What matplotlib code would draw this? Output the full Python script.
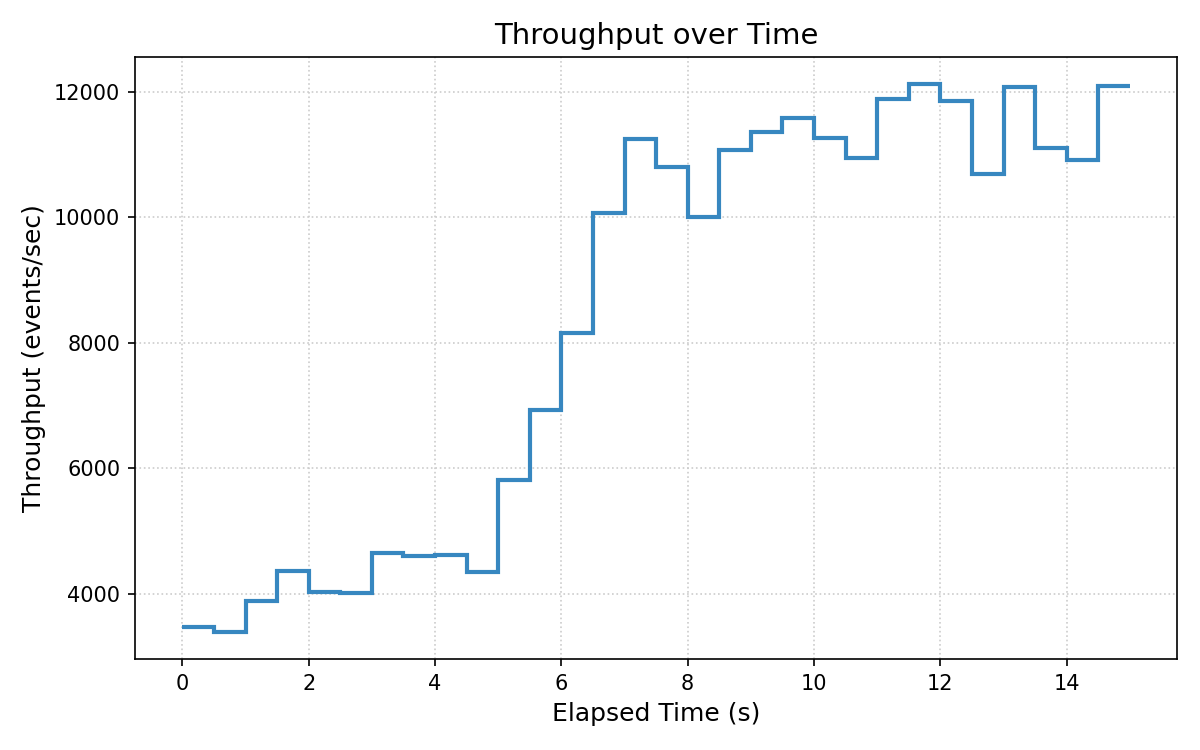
import matplotlib
matplotlib.use("Agg")
import matplotlib.pyplot as plt
import numpy as np

# Bin edges (seconds) and throughput per 0.5 s bin
time_edges = [0.0, 0.5, 1.0, 1.5, 2.0, 2.5, 3.0, 3.5, 4.0, 4.5, 5.0, 5.5, 6.0, 6.5, 7.0, 7.5,
              8.0, 8.5, 9.0, 9.5, 10.0, 10.5, 11.0, 11.5, 12.0, 12.5, 13.0, 13.5, 14.0, 14.5, 15.0]
throughput = [3483, 3398, 3888, 4363, 4032, 4016, 4656, 4608, 4624, 4352,
              5814, 6939, 8160, 10069, 11253, 10794, 10000, 11066, 11354, 11580,
              11260, 10952, 11883, 12117, 11851, 10693, 12075, 11109, 10907, 12085]

fig, ax = plt.subplots(figsize=(8, 5), dpi=150)
ax.stairs(throughput, time_edges, baseline=None, color="#3787c0", linewidth=2, zorder=3)
ax.margins(x=0.05, y=0.05)
ax.set_title("Throughput over Time", fontsize=14)
ax.set_xlabel("Elapsed Time (s)", fontsize=12)
ax.set_ylabel("Throughput (events/sec)", fontsize=12)
ax.grid(True, linestyle=":", color="#cccccc", linewidth=0.8, zorder=0)
ax.set_axisbelow(True)
ax.set_yticks([4000, 6000, 8000, 10000, 12000])
ax.tick_params(labelsize=10)
fig.subplots_adjust(left=0.1125, right=0.981, top=0.924, bottom=0.121)
fig.savefig("out.png", dpi=150)
